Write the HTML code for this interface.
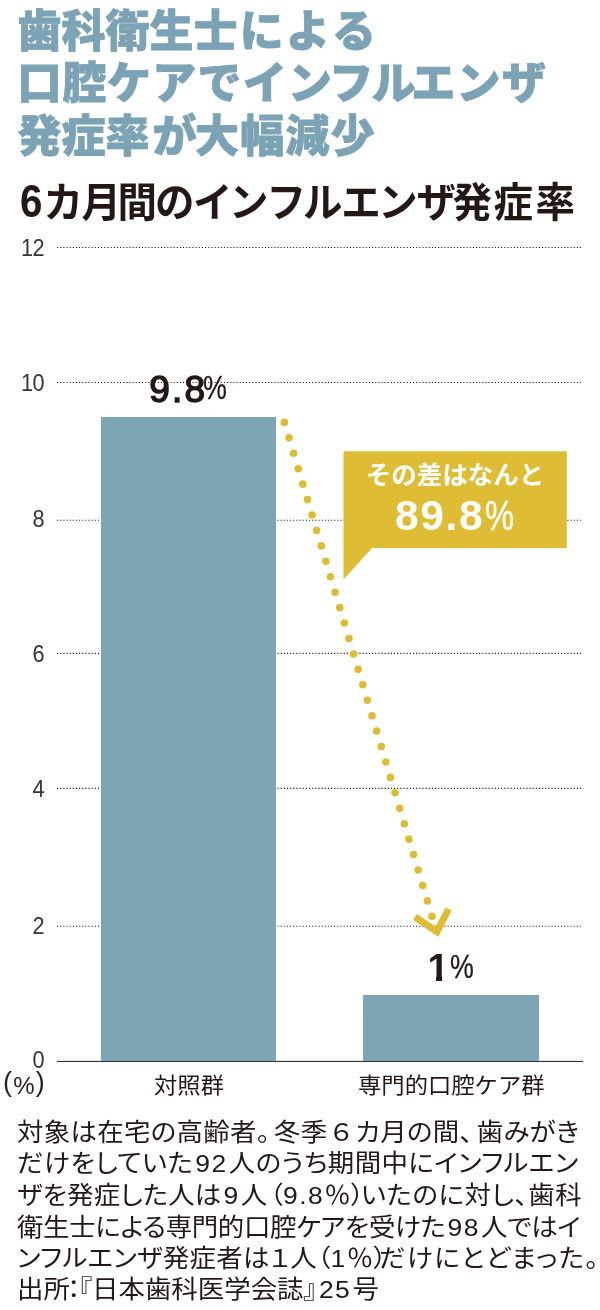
<!DOCTYPE html>
<html lang="ja">
<head>
<meta charset="utf-8">
<title>歯科衛生士による口腔ケアでインフルエンザ発症率が大幅減少</title>
<style>
html,body{margin:0;padding:0;background:#fff;}
body{width:600px;height:1310px;position:relative;overflow:hidden;
  font-family:"Liberation Sans","Noto Sans CJK JP",sans-serif;color:#231815;}
.abs{position:absolute;white-space:nowrap;line-height:1;}
.title{left:17.5px;font-family:"Liberation Sans","Noto Sans CJK JP",sans-serif;font-weight:900;font-size:44px;color:#7ba3b5;-webkit-text-stroke:0.8px #7ba3b5;transform-origin:0 0;}
.sub{left:21px;top:183.12px;font-family:"Liberation Sans","Noto Sans CJK JP",sans-serif;font-weight:700;font-size:40.5px;color:#231815;transform-origin:0 0;transform:scaleX(0.975);font-feature-settings:"palt";}
.yl{position:absolute;left:0;width:44.2px;text-align:right;font-family:"Liberation Sans",sans-serif;font-size:23.6px;line-height:24px;color:#3a3432;font-weight:400;letter-spacing:-0.5px;transform:scaleX(0.92);transform-origin:100% 50%;}
.bar{position:absolute;background:#7da6b5;}
.xl{font-family:"Liberation Sans","Noto Sans CJK JP",sans-serif;font-size:22px;color:#231815;transform:scaleX(1.06);transform-origin:0 0;}
.val{font-family:"Liberation Sans",sans-serif;font-weight:700;color:#231815;}
.pc{display:inline-block;font-weight:400;-webkit-text-stroke:0.3px currentColor;transform-origin:0 100%;position:relative;top:-3px;margin-left:-4px;font-size:33.5px;transform:scaleX(0.8);letter-spacing:0;}
.body{left:16.9px;transform-origin:0 0;transform:scaleX(1.075);font-family:"Liberation Sans","Noto Sans CJK JP",sans-serif;font-size:24.6px;color:#231815;font-feature-settings:"palt";}
.h{font-feature-settings:"halt";}
.pr{font-size:27px;line-height:0;position:relative;top:-2.6px;}
.d{letter-spacing:1.4px;margin:0 1px 0 2px;}
</style>
</head>
<body>
<div class="abs title" id="t1" style="top:10.14px">歯科衛生<span style="letter-spacing:2.2px">士によ</span>る</div>
<div class="abs title" id="t2" style="top:62.14px"><span style="letter-spacing:0.75px">口腔</span><span style="letter-spacing:1.25px">ケアでイ</span><span style="letter-spacing:-1.5px">ンフ</span><span style="letter-spacing:-4.5px">ル</span><span style="letter-spacing:1.25px">エン</span>ザ</div>
<div class="abs title" id="t3" style="top:115.14px">発症率<span style="margin:0 -1.5px 0 3px">が</span><span style="letter-spacing:1.2px">大幅減</span>少</div>
<div class="abs sub" id="sub"><span style="display:inline-block;line-height:30px;font-size:46px;transform:scaleX(0.9);transform-origin:0 100%;margin:0 0 0 -1px">6</span>カ<span style="letter-spacing:-3.5px">月</span><span style="letter-spacing:-2px">間</span>の<span style="letter-spacing:1.5px">イ</span><span style="letter-spacing:2px">ン</span>フルエン<span style="letter-spacing:-3px">ザ</span><span style="letter-spacing:1.5px">発</span><span style="letter-spacing:2.5px">症</span>率</div>

<svg class="abs" style="left:0;top:0" width="600" height="1310" viewBox="0 0 600 1310">
  <g stroke="#231815" stroke-width="1.1" stroke-dasharray="1.1 2.05" fill="none">
    <line x1="57" y1="247.5" x2="582.5" y2="247.5"/>
    <line x1="57" y1="382.5" x2="582.5" y2="382.5"/>
    <line x1="57" y1="520.3" x2="582.5" y2="520.3"/>
    <line x1="57" y1="653.4" x2="582.5" y2="653.4"/>
    <line x1="57" y1="788.4" x2="582.5" y2="788.4"/>
    <line x1="57" y1="926.2" x2="582.5" y2="926.2"/>
  </g>
  <line x1="57" y1="1061.4" x2="583" y2="1061.4" stroke="#231815" stroke-width="1"/>
</svg>

<div class="yl" style="top:236.4px">12</div>
<div class="yl" style="top:371.4px">10</div>
<div class="yl" style="top:507.4px">8</div>
<div class="yl" style="top:642.4px">6</div>
<div class="yl" style="top:777.4px">4</div>
<div class="yl" style="top:913.6px">2</div>
<div class="yl" style="top:1048.4px">0</div>
<div class="abs" id="pct" style="left:3px;top:1074px;font-size:24px;font-weight:400;font-family:'Liberation Sans','Noto Sans CJK JP',sans-serif;color:#2a2220;letter-spacing:1.2px"><span class="pr">(</span>%<span class="pr">)</span></div>

<div class="bar" style="left:101.1px;top:416.9px;width:174.5px;height:644.1px"></div>
<div class="bar" style="left:363.2px;top:995px;width:175.7px;height:66px"></div>

<div class="abs val" id="v1" style="left:149.3px;top:371.3px;font-size:37px;letter-spacing:2.2px;font-weight:400;-webkit-text-stroke:1.45px #231815">9.8<span class="pc">%</span></div>
<div class="abs val" id="v2" style="left:427.5px;top:949px;font-size:38.5px;letter-spacing:1.5px">1<span class="pc" style="margin-left:-0.5px">%</span></div>

<div style="position:absolute;left:429px;top:976.4px;width:6.9px;height:5.6px;background:#fff"></div>
<div style="position:absolute;left:442.1px;top:976.4px;width:7px;height:5.6px;background:#fff"></div>
<svg class="abs" style="left:0;top:0" width="600" height="1310" viewBox="0 0 600 1310">
  <line x1="284.4" y1="422.4" x2="432" y2="916.4" stroke="#debd34" stroke-width="7.6" stroke-linecap="round" stroke-dasharray="0 16.11"/>
  <polyline points="415,917 437,931.6 448.6,909" fill="none" stroke="#debd34" stroke-width="7"/>
  <polygon points="343.5,451.2 566.8,451.2 566.8,548 372,548 343.5,579.5" fill="#debd34"/>
</svg>
<div class="abs" id="c1" style="left:344px;width:222px;text-align:center;top:462.98px;font-family:'Liberation Sans','Noto Sans CJK JP',sans-serif;font-weight:700;font-size:25.5px;color:#fff">その差はなんと</div>
<div class="abs val" id="c2" style="left:395px;top:494.5px;font-size:42.5px;color:#fff;letter-spacing:1.6px">89.8<span class="pc" style="font-size:42.5px;top:0;margin-left:1px;transform:scaleX(0.77);-webkit-text-stroke:0.4px #fff">%</span></div>

<div class="abs xl" id="x1" style="left:154.2px;top:1074.67px">対照群</div>
<div class="abs xl" id="x2" style="left:357.8px;top:1074.67px">専門的口腔ケア群</div>

<div class="abs body" id="b1" style="top:1120.65px;letter-spacing:0.28px">対象は在宅の高齢者<span style="margin-right:3.5px">。</span>冬季<span style="margin:0 3.5px">６</span>カ月の間<span style="margin-right:3.5px">、</span>歯みがき</div>
<div class="abs body" id="b2" style="top:1151.9px;letter-spacing:0.41px">だけをしていた<span class="d">92</span>人のうち期間中にインフルエン</div>
<div class="abs body" id="b3" style="top:1183.9px;letter-spacing:0.155px">ザを発症した人は<span class="d">9</span>人<span style="margin-left:2px">（</span><span class="d" style="margin:0">9.8</span>％<span style="margin-right:-3px">）</span><span style="letter-spacing:0.53px">いたのに対し、歯</span>科</div>
<div class="abs body" id="b4" style="top:1215.9px;letter-spacing:-0.32px">衛生士による専門的口腔ケアを受けた<span class="d">98</span>人ではイ</div>
<div class="abs body" id="b5" style="top:1246.9px;letter-spacing:0.31px">ンフルエンザ発症者は１人（<span class="d" style="margin:0">1</span>％<span style="margin-right:-7.5px">）</span><span style="letter-spacing:1.25px">だけにとどまった</span>。</div>
<div class="abs body" id="b6" style="top:1277.9px">出所<span style="margin:0 -1.5px 0 -2.5px">：</span>『日本歯科医学会誌』<span class="d">25</span>号</div>
</body>
</html>
